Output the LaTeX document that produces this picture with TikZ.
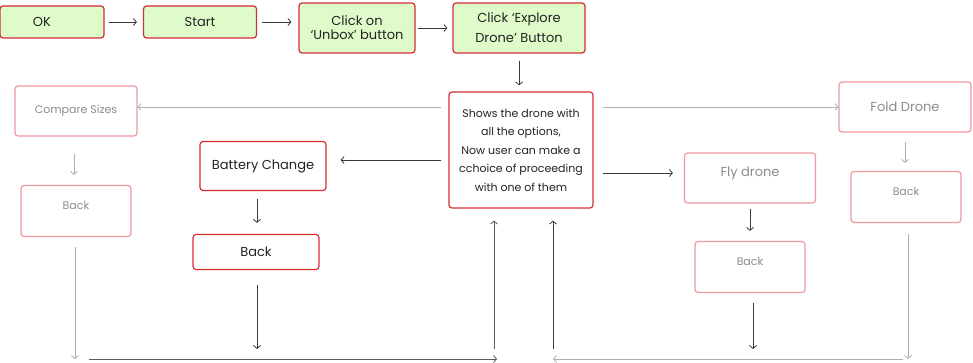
\documentclass[tikz,border=0pt]{standalone}
\usepackage{fontspec}
\setmainfont{Poppins}
\usetikzlibrary{arrows.meta, positioning, calc}
\definecolor{leaf}{RGB}{224,251,202}
\definecolor{brick}{RGB}{213,43,52}
\definecolor{blush}{RGB}{238,152,158}
\definecolor{ash}{RGB}{140,140,140}
\definecolor{ink}{RGB}{35,35,35}

\begin{document}
\begin{tikzpicture}[x=1pt, y=-1pt,
  stepbox/.style={draw=brick, line width=1.2pt, rounded corners=3pt, fill=leaf, align=center, text=ink, font=\fontsize{13}{18}\selectfont},
  optbox/.style={draw=brick, line width=1.2pt, rounded corners=3pt, align=center, text=ink, font=\fontsize{13}{18}\selectfont},
  fadebox/.style={draw=blush, line width=1.2pt, rounded corners=3pt, text=ash, font=\fontsize{11}{14}\selectfont},
  fadeback/.style={fadebox, inner ysep=6pt, text height=18pt, text depth=21pt, minimum width=110pt},
  darr/.style={draw=ink!90, line width=0.8pt, -{Straight Barb[length=3pt,width=7pt]}},
  garr/.style={draw=ash!70, line width=0.8pt, -{Straight Barb[length=3pt,width=7pt]}}]
  \useasboundingbox (0,0) rectangle (973,363);
  % top row
  \node[stepbox, minimum width=104pt, minimum height=32pt] (ok) at (52,22) {OK\hspace*{20pt}};
  \node[stepbox, minimum width=113pt, minimum height=32pt] (start) at (200,22) {Start};
  \node[stepbox, minimum width=116pt, minimum height=50pt, font=\fontsize{13}{14}\selectfont] (unbox) at (357,28) {Click on\\‘Unbox’ button};
  \node[stepbox, minimum width=132pt, minimum height=50pt, font=\fontsize{13}{20}\selectfont] (explore) at (519,28) {Click ‘Explore\\Drone’ Button};
  \draw[darr, shorten <=4pt, shorten >=6pt] (ok) -- (start);
  \draw[darr, shorten <=5pt, shorten >=7pt] (start) -- (start -| unbox.west);
  \draw[darr, shorten <=2pt, shorten >=5pt] (unbox) -- (explore);
  % options
  \node[optbox, minimum width=144pt, minimum height=116pt, font=\fontsize{11}{18.5}\selectfont] (main) at (521,150) {Shows the drone with\\all the options,\\Now user can make a\\cchoice of proceeding\\with one of them};
  \draw[darr, shorten <=7pt, shorten >=6pt] (explore) -- (explore |- main.north);
  \node[fadebox, minimum width=122pt, minimum height=50pt] (compare) at (76,111) {Compare Sizes};
  \node[fadeback] (cback) at (76,211) {Back};
  \node[optbox, minimum width=126pt, minimum height=49pt] (battery) at (263,166) {Battery Change};
  \node[optbox, minimum width=126pt, minimum height=35pt] (mback) at (256,252) {Back};
  \node[fadebox, minimum width=131pt, inner ysep=6pt, text height=18pt, text depth=20pt, font=\fontsize{13}{16}\selectfont] (fly) at (750,178) {Fly drone};
  \node[fadeback] (fback) at (750,267) {Back};
  \node[fadebox, minimum width=132pt, minimum height=50pt, font=\fontsize{13}{16}\selectfont] (fold) at (905,107) {Fold Drone};
  \node[fadeback] (dback) at (906,197) {Back};
  \draw[garr, shorten <=7pt] (main.west |- fold) -- (compare.east |- fold);
  \draw[garr, shorten <=9pt] (main.east |- fold) -- (fold.west);
  \coordinate (bat) at ($(battery.east)+(0,-6)$);
  \coordinate (fl) at ($(fly.west)+(0,-5)$);
  \draw[darr, shorten <=7pt, shorten >=14pt] (main.west |- bat) -- (bat);
  \draw[darr, shorten <=9pt, shorten >=11pt] (main.east |- fl) -- (fl);
  \coordinate (cs) at ($(compare.south)+(-2,0)$);
  \coordinate (bs) at ($(battery.south)+(-6,0)$);
  \draw[garr, shorten <=17pt, shorten >=10pt] (cs) -- (cs |- cback.north);
  \draw[darr, shorten <=8pt, shorten >=11pt] (bs) -- (bs |- mback.north);
  \draw[garr, shorten <=9pt, shorten >=8pt] (fold) -- (fold |- dback.north);
  \draw[darr, shorten <=5pt, shorten >=10pt] (fly) -- (fback);
  % bottom return lines
  \coordinate (bl) at (89,359);
  \coordinate (br) at (497,359);
  \coordinate (rl) at (553,359);
  \coordinate (rr) at (903,359);
  \coordinate (u1) at (494,349);
  \coordinate (u2) at (553,349);
  \coordinate (cb) at ($(cback.south)+(-1,0)$);
  \coordinate (mb) at ($(mback.south)+(1,0)$);
  \coordinate (fb) at ($(fback.south)+(3,0)$);
  \coordinate (db) at ($(dback.south)+(2,0)$);
  \draw[garr, shorten <=10pt] (cb) -- (cb |- bl);
  \draw[darr, shorten <=15pt] (mb) -- (mb |- u1);
  \draw[darr, draw=ink!75] (bl) -- (br);
  \draw[darr, draw=ink!75, shorten >=12pt] (u1) -- (u1 |- main.south);
  \draw[darr, shorten >=12pt] (u2) -- (u2 |- main.south);
  \draw[garr] (rr) -- (rl);
  \draw[darr, shorten <=10pt] (fb) -- (fb |- u1);
  \draw[garr, shorten <=11pt] (db) -- (db |- bl);
\end{tikzpicture}
\end{document}
